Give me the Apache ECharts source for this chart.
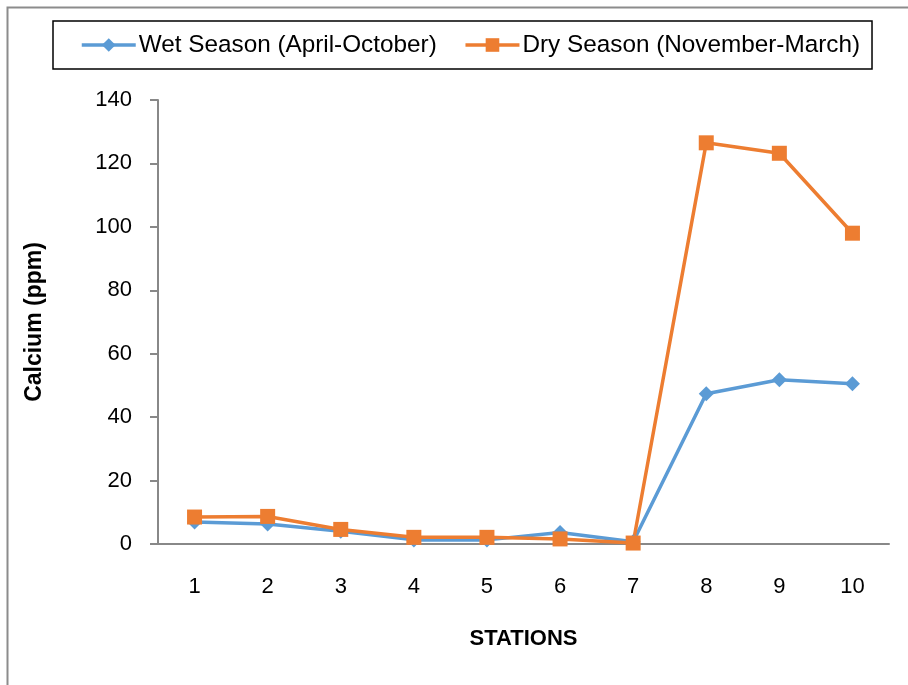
<!DOCTYPE html>
<html>
<head>
<meta charset="utf-8">
<script src="https://cdn.jsdelivr.net/npm/echarts@6/dist/echarts.min.js"></script>
<style>html,body{margin:0;padding:0;background:#fff;}#c{width:908px;height:685px;}</style>
</head>
<body>
<div id="c"></div>
<script>
const stations = ['1','2','3','4','5','6','7','8','9','10'];
const wetSeason = [6.9, 6.3, 4.0, 1.3, 1.3, 3.6, 0.7, 47.4, 51.8, 50.5];
const drySeason = [8.5, 8.7, 4.6, 2.1, 2.1, 1.6, 0.3, 126.5, 123.2, 98.0];
const wetName = 'Wet Season (April-October)';
const dryName = 'Dry Season (November-March)';
const yTicks = { min: 0, max: 140, interval: 20 };

const chart = echarts.init(document.getElementById('c'), null, { renderer: 'canvas' });
const font = 'Liberation Sans, Arial, sans-serif';
chart.setOption({
  animation: false,
  backgroundColor: '#fff',
  graphic: [{
    type: 'rect', left: 5, top: 5, silent: true,
    shape: { x: 0, y: 0, width: 1200, height: 1000 },
    style: { fill: 'none', stroke: '#8c8c8c', lineWidth: 2 }
  }],
  legend: {
    left: 53, top: 21,
    padding: [12, 12, 12, 27],
    borderColor: '#000', borderWidth: 1.5,
    itemWidth: 54, itemHeight: 17, itemGap: 27,
    lineStyle: { width: 3.5 },
    textStyle: { fontFamily: font, fontSize: 24.3, color: '#000', padding: [0, 0, 0, -2] },
    data: [wetName, dryName]
  },
  grid: { left: 158, right: 19, top: 100, bottom: 141, containLabel: false },
  xAxis: {
    type: 'category', data: stations, boundaryGap: true,
    name: 'STATIONS', nameLocation: 'middle', nameGap: 84,
    nameTextStyle: { fontFamily: font, fontSize: 22, fontWeight: 'bold', color: '#000' },
    axisLine: { lineStyle: { color: '#888', width: 2 } },
    axisTick: { show: false },
    axisLabel: { fontFamily: font, fontSize: 22, color: '#000', margin: 32 }
  },
  yAxis: {
    type: 'value', min: yTicks.min, max: yTicks.max, interval: yTicks.interval,
    name: 'Calcium (ppm)', nameLocation: 'middle', nameGap: 112,
    nameTextStyle: { fontFamily: font, fontSize: 23, fontWeight: 'bold', color: '#000' },
    axisLine: { show: true, lineStyle: { color: '#888', width: 2 } },
    axisTick: { show: true, length: 8, lineStyle: { color: '#888', width: 2 } },
    splitLine: { show: false },
    axisLabel: { fontFamily: font, fontSize: 22, color: '#000', margin: 26 }
  },
  series: [
    {
      name: wetName, type: 'line', data: wetSeason,
      symbol: 'diamond', symbolSize: 15,
      lineStyle: { color: '#5B9BD5', width: 3.5 },
      itemStyle: { color: '#5B9BD5' }
    },
    {
      name: dryName, type: 'line', data: drySeason,
      symbol: 'rect', symbolSize: 15,
      lineStyle: { color: '#ED7D31', width: 3.5 },
      itemStyle: { color: '#ED7D31' }
    }
  ]
});
</script>
</body>
</html>
